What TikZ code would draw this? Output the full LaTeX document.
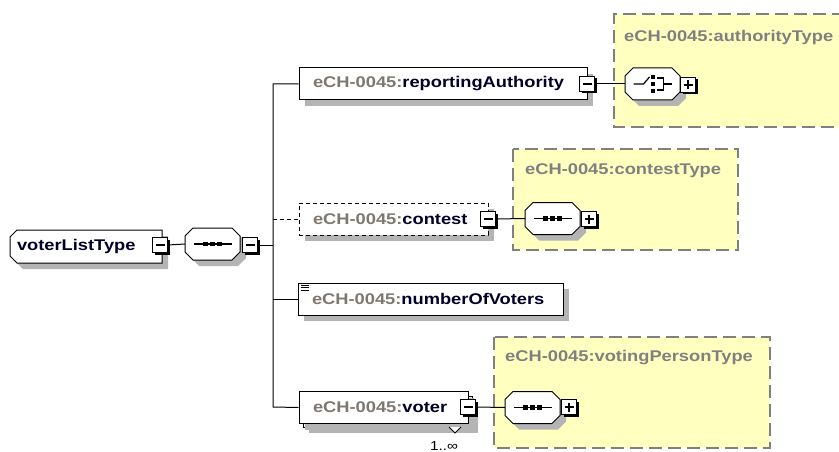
\documentclass[tikz,border=0pt]{standalone}
\usepackage{fontspec}
\setmainfont[FakeStretch=1.18]{Liberation Sans}
\usetikzlibrary{shadows}
\definecolor{pfx}{RGB}{128,120,112}
\definecolor{nm}{RGB}{0,0,40}
\definecolor{yel}{RGB}{255,255,192}
\definecolor{shd}{RGB}{180,180,180}
\definecolor{ttl}{RGB}{128,128,128}
\newcommand{\pf}{\textcolor{pfx}{eCH-0045:}}
% octagon at centre (#1,#2), offset #4, style #3
\newcommand{\octat}[4]{%
  \path[#3] (#1+#4-19.5,#2+#4-16) -- (#1+#4+19.5,#2+#4-16) -- (#1+#4+27.5,#2+#4-8) -- (#1+#4+27.5,#2+#4+8)
   -- (#1+#4+19.5,#2+#4+16) -- (#1+#4-19.5,#2+#4+16) -- (#1+#4-27.5,#2+#4+8) -- (#1+#4-27.5,#2+#4-8) -- cycle;}
\newcommand{\octbox}[2]{%
  \octat{#1}{#2}{fill=shd}{6}
  \octat{#1}{#2}{fill=white, draw=black, line width=1pt}{0}}
\newcommand{\rootpath}[2]{%
  \path[#1] (17+#2,230+#2) -- (162+#2,230+#2) -- (162+#2,263+#2) -- (17+#2,263+#2) -- (10+#2,256+#2) -- (10+#2,237+#2) -- cycle;}
\begin{document}
\begin{tikzpicture}[x=1pt,y=-1pt,
  lbl/.style={font=\bfseries\fontsize{15.5}{17}\selectfont, text=nm},
  elem/.style={rectangle, draw=black, line width=1pt, fill=white, minimum height=32pt, inner xsep=14pt, inner ysep=0pt, align=left, lbl,
     general shadow={fill=shd, shadow xshift=6pt, shadow yshift=-6pt}},
  comp/.style={rectangle, minimum width=55pt, minimum height=32pt, inner sep=0pt},
  pm/.style={rectangle, draw=black, line width=1pt, fill=white, minimum size=15pt, inner sep=0pt,
     general shadow={fill=black, shadow xshift=2pt, shadow yshift=-2pt}},
  typebox/.style={draw=ttl, line width=1.3pt, fill=yel, dash pattern=on 13pt off 6pt},
  ttlstyle/.style={font=\bfseries\fontsize{15.5}{17}\selectfont, text=ttl, anchor=north west, inner sep=0pt},
  conn/.style={draw=black, line width=1pt}
]
\useasboundingbox (0,0) rectangle (839,452);

% type boxes
\fill[yel] (614,14) rectangle (845,127);
\draw[typebox] (845,14) -- (614,14) -- (614,127) -- (845,127);
\node[ttlstyle] (t1) at (624,30) {eCH-0045:authorityType};

\draw[typebox] (513,149) rectangle (738,250);
\node[ttlstyle] (t2) at (525,163) {eCH-0045:contestType};

\draw[typebox] (494,337) rectangle (770,448);
\node[ttlstyle] (t3) at (505,350) {eCH-0045:votingPersonType};

% root
\rootpath{fill=shd}{6}
\rootpath{fill=white, draw=black, line width=1pt}{0}
\node[rectangle, minimum height=33pt, minimum width=152pt, inner sep=0pt] (root) at (86,246.5) {};
\node[lbl, anchor=west, inner sep=0pt] (rootlbl) at ([xshift=7pt]root.west) {voterListType};
\node[pm] (rootm) at (160,245) {};
\octbox{212.5}{244}
\node[comp] (seq) at (212.5,244) {};
\node[pm] (seqm) at (250,245) {};

% elements
\node[elem, text width=260pt] (ra) at (443,84) {\pf reportingAuthority};
\node[pm] (ram) at (587,84) {};
\octbox{652.5}{84}
\node[comp] (ch) at (652.5,84) {};
\node[pm] (chp) at (688,85) {};

\node[elem, dash pattern=on 4pt off 3pt, text width=161pt] (ct) at (393.5,219) {\pf contest};
\node[pm] (ctm) at (488,219) {};
\octbox{552.5}{218.5}
\node[comp] (cts) at (552.5,218.5) {};
\node[pm] (ctp) at (589,219) {};

\node[elem, text width=237pt] (nv) at (430.5,299) {\pf numberOfVoters};

\fill[shd] (309,402) rectangle (478,433);
\draw[black, line width=1pt, fill=white] (303,396) rectangle (472,427);
\node[elem, general shadow={}, text width=141pt] (vt) at (383.5,407.5) {\pf voter};
\node[pm] (vtm) at (468,407) {};
\octbox{532.5}{407.5}
\node[comp] (vts) at (532.5,407.5) {};
\node[pm] (vtp) at (569,407) {};
\draw[black, line width=0.8pt, fill=white] (449,427) -- (455,433) -- (461,427);
\node[font=\fontsize{13}{13}\selectfont, inner sep=0pt] (mult) at (444,446) {1..∞};

% minus / plus signs
\foreach \n in {rootm,seqm,ram,ctm,vtm} {\draw[line width=1.2pt] ([xshift=-4.5pt]\n.center) -- ([xshift=4.5pt]\n.center);}
\foreach \n in {chp,ctp,vtp} {\draw[line width=1.2pt] ([xshift=-4.5pt]\n.center) -- ([xshift=4.5pt]\n.center) ([yshift=-4.5pt]\n.center) -- ([yshift=4.5pt]\n.center);}

% sequence icons
\foreach \n in {seq,cts,vts} {
  \draw[line width=1.2pt] ([xshift=-19pt]\n.center) -- ([xshift=19pt]\n.center);
  \foreach \dx in {-7,0,7} \fill ([xshift=\dx pt]\n.center) ++(-2.2,-2.2) rectangle ++(4.4,4.4);
}
% choice icon
\draw[line width=1.2pt] ([xshift=-19pt]ch.center) -- ([xshift=-9pt]ch.center) -- ([xshift=-3pt,yshift=7pt]ch.center);
\foreach \dy in {-7,0,7} \fill ([xshift=0pt,yshift=\dy pt]ch.center) ++(-2,-2) rectangle ++(4,4);
\draw[line width=1.2pt] ([xshift=4pt,yshift=-6pt]ch.center) -- ([xshift=11pt,yshift=-6pt]ch.center) -- ([xshift=11pt,yshift=6pt]ch.center) -- ([xshift=4pt,yshift=6pt]ch.center)
  ([xshift=11pt]ch.center) -- ([xshift=19pt]ch.center);
% numberOfVoters icon
\foreach \dy in {2.5,5,7.5} \draw[line width=0.7pt] ([xshift=3pt,yshift=-\dy pt]nv.north west) -- ([xshift=11pt,yshift=-\dy pt]nv.north west);

% connectors
\draw[conn] (rootm.east) -- (seq.west);
\draw[conn] (seqm.east) -- (273,245);
\coordinate (vtop) at (273,84);
\coordinate (vbot) at (273,407);
\draw[conn] (ra.west) -- (vtop) -- (vbot) -- (vt.west);
\draw[conn, dash pattern=on 4pt off 3pt] (273,219) -- (ct.west);
\draw[conn] (273,299) -- (nv.west);
\draw[conn] (ram.east) -- (ch.west);
\draw[conn] (ctm.east) -- (cts.west);
\draw[conn] (vtm.east) -- (vts.west);
\end{tikzpicture}
\end{document}
